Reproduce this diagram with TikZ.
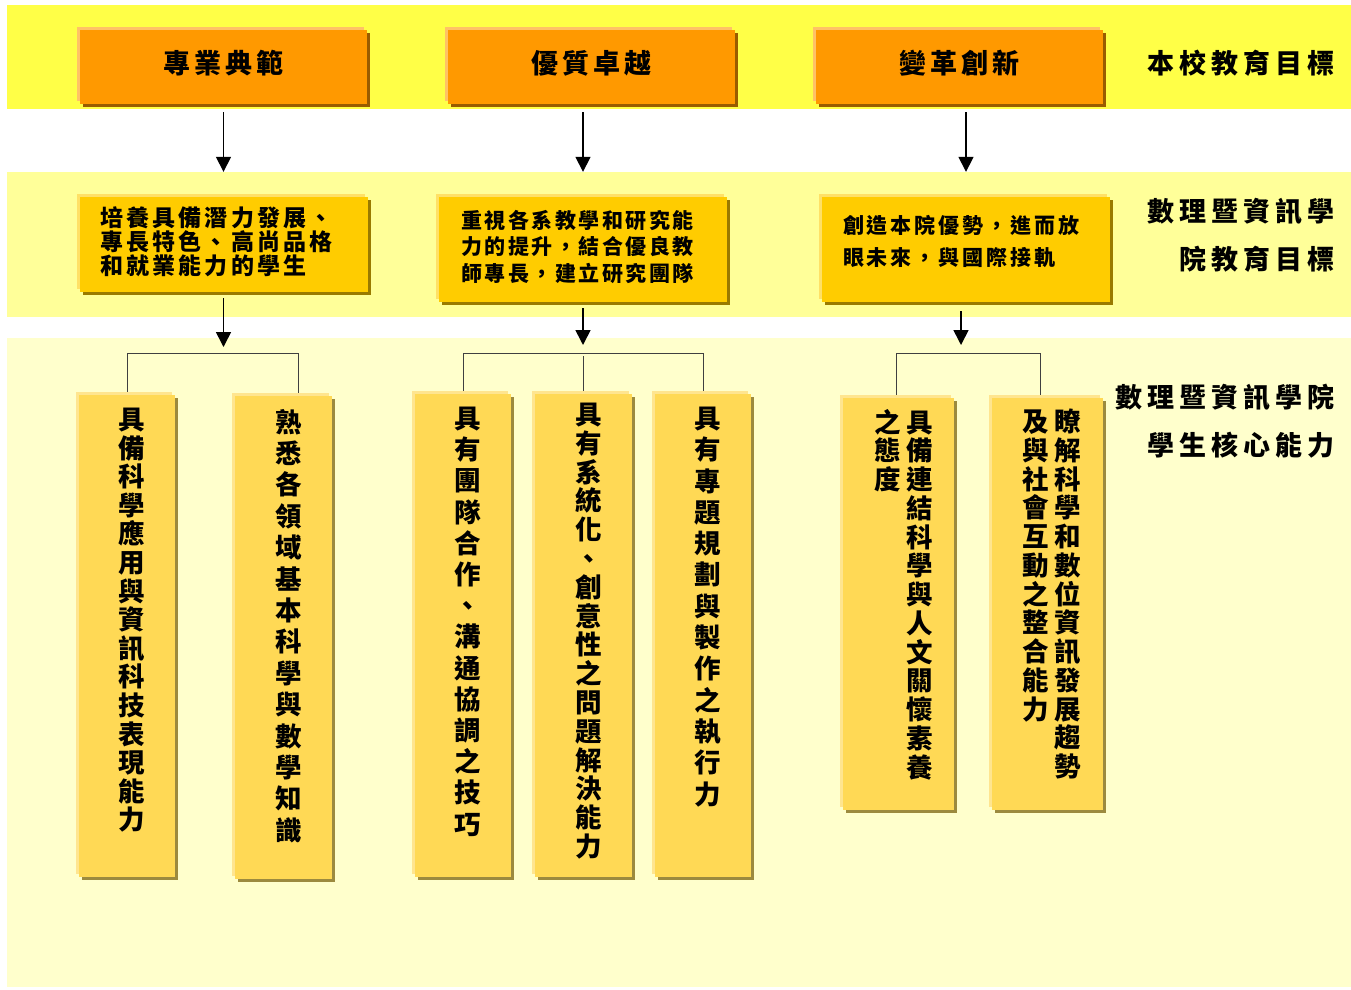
\documentclass[tikz,border=0pt]{standalone}
\usepackage{fontspec}
\setmainfont{Noto Sans CJK TC}
\newfontfamily\cjkT{Noto Sans CJK TC}[LetterSpace=14]
\newfontfamily\cjkL{Noto Sans CJK TC}[LetterSpace=19]
\newfontfamily\cjkM{Noto Sans CJK TC}[LetterSpace=14]
\newfontfamily\cjkN{Noto Sans CJK TC}[LetterSpace=12]
\newfontfamily\cjkV{Noto Sans CJK TC}
\usetikzlibrary{arrows.meta,shadows}

\definecolor{bandA}{HTML}{FFFF47}
\definecolor{bandB}{HTML}{FFFF99}
\definecolor{bandC}{HTML}{FFFFCC}
\definecolor{orgF}{HTML}{FF9900}
\definecolor{orgL}{HTML}{FFC266}
\definecolor{orgD}{HTML}{995C00}
\definecolor{golF}{HTML}{FFCC00}
\definecolor{golL}{HTML}{FFE066}
\definecolor{golD}{HTML}{997A00}
\definecolor{palF}{HTML}{FFD955}
\definecolor{palL}{HTML}{FFE58F}
\definecolor{palD}{HTML}{9C8A3E}

\def\vcolA#1{\ifx\relax#1\else#1\par\expandafter\vcolA\fi}
\newcommand\vcol[2]{\vtop{\hsize=27pt\parindent=0pt\parskip=0pt\leftskip=0pt plus 1fil\rightskip=0pt plus 1fil\parfillskip=0pt\baselineskip=#1\lineskiplimit=-100pt\lineskip=0pt\vcolA#2\relax}}

\tikzset{
  boxbase/.style={draw=none, inner sep=0pt},
  tbox/.style={boxbase, fill=orgF,
    general shadow={fill=orgL, shadow xshift=-3pt, shadow yshift=3pt},
    general shadow={fill=orgD, shadow xshift=3pt, shadow yshift=-3pt},
    minimum width=287pt, minimum height=74pt, text height=20pt, text depth=8pt,
    font=\cjkT\bfseries\fontsize{27}{30}\selectfont},
  mbox/.style={boxbase, fill=golF,
    general shadow={fill=golL, shadow xshift=-3pt, shadow yshift=3pt},
    general shadow={fill=golD, shadow xshift=3pt, shadow yshift=-3pt},
    minimum width=288pt, align=left},
  bbox/.style={boxbase, fill=palF,
    general shadow={fill=palL, shadow xshift=-3pt, shadow yshift=3pt},
    general shadow={fill=palD, shadow xshift=3pt, shadow yshift=-3pt}},
  vtxt/.style={anchor=north, inner sep=0pt,
    font=\cjkV\bfseries\fontsize{26.5}{28}\selectfont},
  lbl/.style={anchor=east, inner sep=0pt,
    font=\cjkL\bfseries\fontsize{27}{30}\selectfont},
  arr/.style={line width=1.6pt, -{Triangle[width=15pt,length=15pt]}},
  tree/.style={draw=black!75, line width=1pt, shorten <=3pt, shorten >=3pt}
}

\begin{document}
\begin{tikzpicture}[x=1pt,y=-1pt]
\useasboundingbox (0,0) rectangle (1351,989);
\fill[white] (0,0) rectangle (1351,989);
% bands
\fill[bandA] (7,5) rectangle (1351,109);
\fill[bandB] (7,172) rectangle (1351,317);
\fill[bandC] (7,338) rectangle (1351,987);

% top row
\node[tbox] (t1) at (223.5,67) {專業典範};
\node[tbox] (t2) at (591.5,67) {優質卓越};
\node[tbox] (t3) at (959.5,67) {變革創新};

% middle row
\node[mbox, minimum height=95pt, text width=247pt, inner xsep=20pt,
      text height=19.5pt, text depth=55pt,
      font=\cjkM\bfseries\fontsize{23}{24}\selectfont] (m1) at (223.5,244.5)
  {培養具備潛力發展、\\專長特色、高尚品格\\和就業能力的學生};
\node[mbox, minimum height=105pt, text width=244pt, inner xsep=22pt,
      text height=17pt, text depth=60pt,
      font=\cjkN\bfseries\fontsize{21}{26.5}\selectfont] (m2) at (583,249.5)
  {重視各系教學和研究能\\力的提升，結合優良教\\師專長，建立研究團隊};
\node[mbox, minimum height=105pt, text width=246pt, inner xsep=21pt,
      text height=18pt, text depth=51pt,
      font=\cjkM\bfseries\fontsize{21}{32}\selectfont] (m3) at (966,249.5)
  {創造本院優勢，進而放\\眼未來，與國際接軌};

% bottom row boxes
\node[bbox, minimum width=96pt, minimum height=482pt] (bA) at (127,636) {};
\node[bbox, minimum width=97pt, minimum height=483pt] (bB) at (283.5,637.5) {};
\node[bbox, minimum width=96pt, minimum height=483pt] (bC) at (463,635.5) {};
\node[bbox, minimum width=97pt, minimum height=483pt] (bD) at (583.5,635.5) {};
\node[bbox, minimum width=96pt, minimum height=483pt] (bE) at (703,635.5) {};
\node[bbox, minimum width=111pt, minimum height=412pt] (bF) at (898.5,604) {};
\node[bbox, minimum width=111pt, minimum height=412pt] (bG) at (1047.5,604) {};

% bottom row texts
\node[vtxt] (tA) at ([xshift=5pt,yshift=-13pt]bA.north) {\vcol{28.6pt}{具備科學應用與資訊科技表現能力}};
\node[vtxt] (tB) at ([xshift=5pt,yshift=-13pt]bB.north) {\vcol{31.4pt}{熟悉各領域基本科學與數學知識}};
\node[vtxt] (tC) at ([xshift=5pt,yshift=-13pt]bC.north) {\vcol{31.2pt}{具有團隊合作、溝通協調之技巧}};
\node[vtxt] (tD) at ([xshift=5pt,yshift=-9pt]bD.north) {\vcol{28.8pt}{具有系統化、創意性之問題解決能力}};
\node[vtxt] (tE) at ([xshift=5pt,yshift=-13pt]bE.north) {\vcol{31.3pt}{具有專題規劃與製作之執行力}};
\node[vtxt] (tF) at ([xshift=5.5pt,yshift=-11pt]bF.north) {\vcol{28.75pt}{之態度}\hspace{5pt}\vcol{28.75pt}{具備連結科學與人文關懷素養}};
\node[vtxt] (tG) at ([xshift=4.5pt,yshift=-11pt]bG.north) {\vcol{28.75pt}{及與社會互動之整合能力}\hspace{5pt}\vcol{28.75pt}{瞭解科學和數位資訊發展趨勢}};

% right labels
\node[lbl] (l1) at (1335,63) {本校教育目標};
\node[lbl] (l2) at (1335,211) {數理暨資訊學};
\node[lbl] (l3) at (1335,259) {院教育目標};
\node[lbl] (l4) at (1335,397) {數理暨資訊學院};
\node[lbl] (l5) at (1335,445) {學生核心能力};

% arrows top -> middle
\draw[arr, shorten <=8pt, shorten >=25pt] (m1.north |- t1.south) -- (m1.north);
\draw[arr, shorten <=8pt, shorten >=25pt] (m2.north |- t2.south) -- (m2.north);
\draw[arr, shorten <=8pt, shorten >=25pt] (m3.north |- t3.south) -- (m3.north);

% hubs
\coordinate (h1) at (223.5,353);
\coordinate (h2) at (583,353);
\coordinate (h3) at (961,353);
\draw[arr, shorten <=6pt, shorten >=6pt] (h1 |- m1.south) -- (h1);
\draw[arr, shorten <=6pt, shorten >=8pt] (h2 |- m2.south) -- (h2);
\draw[arr, shorten <=9pt, shorten >=8pt] (h3 |- m3.south) -- (h3);

% tree lines
\coordinate (g1b) at (298,353);
\draw[tree] (bA.north) |- (g1b) -- (g1b |- bB.north);
\draw[tree] (bC.north) |- (h2) -| (bE.north);
\draw[tree] (bD.north) -- (bD.north |- h2);
\coordinate (g3a) at (896,353);
\coordinate (g3b) at (1040,353);
\draw[tree] (g3a |- bF.north) -- (g3a) -- (g3b) -- (g3b |- bG.north);
\end{tikzpicture}
\end{document}
